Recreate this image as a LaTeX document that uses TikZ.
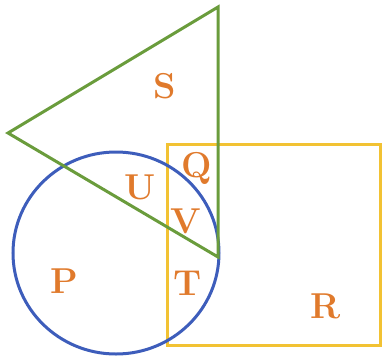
\documentclass[tikz,border=0pt]{standalone}
\usepackage{xcolor}
\usepackage{tikz}
\definecolor{TriGreen}{HTML}{6A9C3C}
\definecolor{CircBlue}{HTML}{3D5DBB}
\definecolor{SqGold}{HTML}{F2C233}
\definecolor{LblOrange}{HTML}{E07A2C}

\begin{document}
\begin{tikzpicture}[x=1pt, y=-1pt,
    every node/.style={font=\fontsize{36}{40}\selectfont\bfseries, text=LblOrange, inner sep=0pt},
    shape line/.style={line width=3pt, line join=miter}]
    \useasboundingbox (0,0) rectangle (387,362);
    \coordinate (apex) at (218,7);
    \coordinate (tip) at (8,133);
    \coordinate (foot) at (218,257);
    \draw[shape line, SqGold] (167,144) rectangle (380,345);
    \draw[shape line, CircBlue] (116,253) circle [x radius=103, y radius=101];
    \draw[shape line, TriGreen] (apex) -- (tip) -- (foot) -- cycle;
    \node (s) at (165,86) {S};
    \node (q) at (197,168) {Q};
    \node (u) at (140,187) {U};
    \node (v) at (186,221) {V};
    \node (p) at (64,281) {P};
    \node (t) at (188,283) {T};
    \node (r) at (326,306) {R};
\end{tikzpicture}
\end{document}
